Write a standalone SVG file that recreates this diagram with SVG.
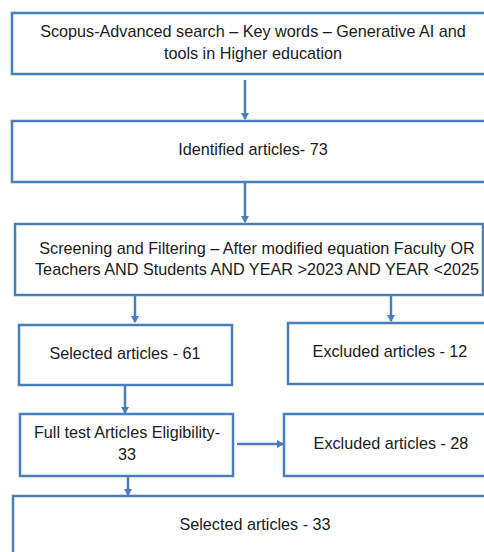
<svg xmlns="http://www.w3.org/2000/svg" width="484" height="552" viewBox="0 0 484 552">
<style>
.box{fill:#fff;stroke:#4a7ebb;stroke-width:2.5}
.t{font-family:"Liberation Sans",Arial,sans-serif;font-size:16.2px;fill:#1a1a1a;text-anchor:middle}
.c{stroke:#4a7ebb;stroke-width:2.5;fill:none;marker-end:url(#ah)}
</style>
<defs>
<marker id="ah" markerWidth="8" markerHeight="8" refX="6" refY="4" orient="auto" markerUnits="userSpaceOnUse" viewBox="0 0 8 8">
<path d="M0,0 L7,4 L0,8 Z" fill="#4a7ebb"/>
</marker>
</defs>
<rect width="484" height="552" fill="#fff"/>
<g id="connectors">
<line class="c" x1="245" y1="80" x2="245" y2="119"/>
<line class="c" x1="245" y1="182" x2="245" y2="222"/>
<line class="c" x1="135" y1="295" x2="135" y2="322"/>
<line class="c" x1="391" y1="295" x2="391" y2="321"/>
<line class="c" x1="125" y1="385" x2="125" y2="413"/>
<line class="c" x1="237" y1="444" x2="283" y2="444"/>
<line class="c" x1="128" y1="476" x2="128" y2="495"/>
</g>
<g id="n1"><rect class="box" x="12" y="13" width="480" height="61"/>
<text class="t" x="253" y="37">Scopus-Advanced search – Key words – Generative AI and</text>
<text class="t" x="253" y="59">tools in Higher education</text></g>
<g id="n2"><rect class="box" x="12" y="121" width="480" height="61"/>
<text class="t" x="253" y="155">Identified articles- 73</text></g>
<g id="n3"><rect class="box" x="15" y="224" width="468" height="71"/>
<text class="t" x="257" y="254">Screening and Filtering – After modified equation Faculty OR</text>
<text class="t" x="257" y="275">Teachers AND Students AND YEAR &gt;2023 AND YEAR &lt;2025</text></g>
<g id="n4"><rect class="box" x="19" y="325" width="213" height="60"/>
<text class="t" x="125" y="359">Selected articles - 61</text></g>
<g id="n5"><rect class="box" x="288" y="323" width="210" height="61"/>
<text class="t" x="390" y="357">Excluded articles - 12</text></g>
<g id="n6"><rect class="box" x="20" y="414" width="213" height="62"/>
<text class="t" x="127" y="438">Full test Articles Eligibility-</text>
<text class="t" x="127" y="460">33</text></g>
<g id="n7"><rect class="box" x="284" y="414" width="210" height="62"/>
<text class="t" x="391" y="449">Excluded articles - 28</text></g>
<g id="n8"><rect class="box" x="13" y="496" width="480" height="70"/>
<text class="t" x="255" y="530">Selected articles - 33</text></g>
</svg>
